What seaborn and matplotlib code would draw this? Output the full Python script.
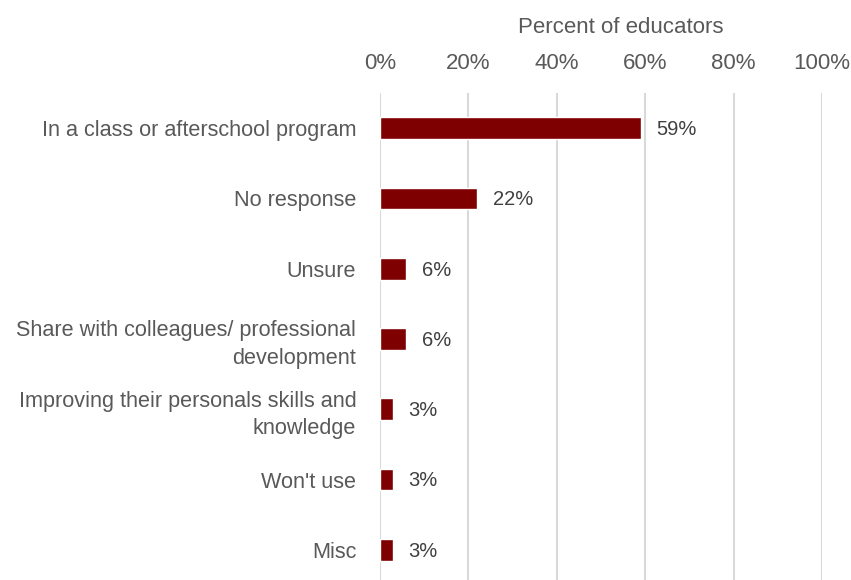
import matplotlib
matplotlib.use("Agg")
import matplotlib.pyplot as plt
import seaborn as sns
import pandas as pd

categories = [
    "In a class or afterschool program",
    "No response",
    "Unsure",
    "Share with colleagues/ professional\ndevelopment",
    "Improving their personals skills and\nknowledge",
    "Won't use",
    "Misc",
]
values = [59, 22, 6, 6, 3, 3, 3]
value_labels = ["59%", "22%", "6%", "6%", "3%", "3%", "3%"]
x_ticks = [0, 20, 40, 60, 80, 100]
x_tick_labels = ["0%", "20%", "40%", "60%", "80%", "100%"]
x_title = "Percent of educators"

df = pd.DataFrame({"category": categories, "value": values})

sns.set_theme(style="white")
plt.rcParams["font.family"] = ["Liberation Sans", "DejaVu Sans"]

text_color = "#595959"
bar_color = "#7F0000"

fig = plt.figure(figsize=(8.51, 5.80), dpi=100)
ax = fig.add_axes([0.4465, -0.0086, 0.5194, 0.8483])

sns.barplot(data=df, x="value", y="category", orient="h", color=bar_color,
            width=0.31, saturation=1, ax=ax, zorder=3)

ax.set_xlim(0, 100)
ax.set_ylim(6.5, -0.5)
ax.set_xticks(x_ticks)
ax.set_xticklabels(x_tick_labels)
ax.xaxis.tick_top()
ax.xaxis.set_label_position("top")
ax.set_xlabel(x_title, fontsize=16, color=text_color, labelpad=14)
ax.xaxis.label.set_x(0.545)
ax.set_ylabel("")
ax.tick_params(axis="x", length=0, pad=14, labelsize=16, labelcolor=text_color)
ax.tick_params(axis="y", length=0, pad=17, labelsize=15.6, labelcolor=text_color)
for lbl in ax.get_yticklabels():
    lbl.set_horizontalalignment("right")
    lbl.set_linespacing(1.4)

ax.grid(axis="x", color="#D9D9D9", linewidth=1.5, zorder=0)
ax.grid(axis="y", visible=False)
for s in ax.spines.values():
    s.set_visible(False)

for i, (v, t) in enumerate(zip(values, value_labels)):
    ax.text(v + 3.5, i + 0.02, t, va="center", ha="left", fontsize=14.5, color="#404040")

fig.savefig("out.png", dpi=100)
